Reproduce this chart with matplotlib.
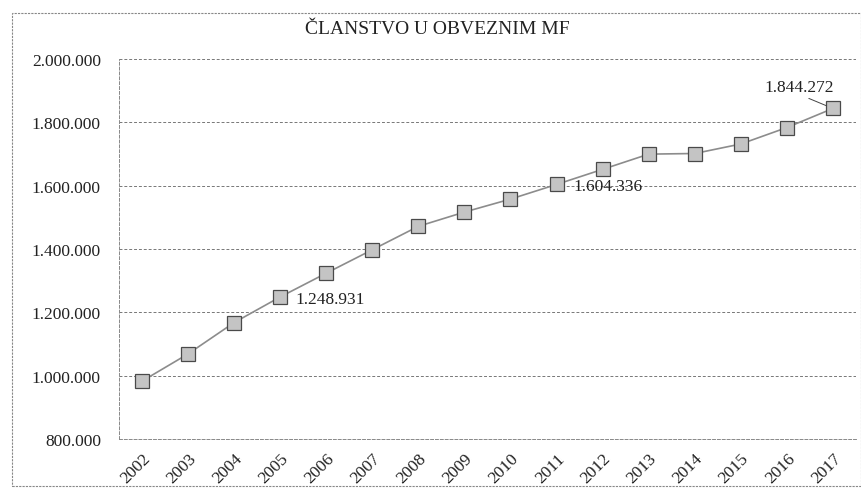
import matplotlib.pyplot as plt
from matplotlib.patches import Rectangle
from matplotlib.ticker import FuncFormatter

# Podaci
godine = [str(g) for g in range(2002, 2018)]
clanovi = [983000, 1069000, 1168000, 1248931, 1324000, 1398000, 1472000, 1517000,
           1558000, 1604336, 1652000, 1700000, 1702000, 1732000, 1784000, 1844272]
oznaceni = [3, 9, 15]

plt.rcParams['font.family'] = ['Liberation Serif', 'DejaVu Serif']

fig = plt.figure(figsize=(8.62, 4.89), dpi=100)
ax = fig.add_axes([0.138, 0.100, 0.855, 0.777])

x = list(range(len(godine)))
ax.plot(x, clanovi, color='#8c8c8c', lw=1.2, marker='s', markersize=10,
        markerfacecolor='#c4c4c4', markeredgecolor='#4a4a4a', markeredgewidth=0.9,
        zorder=3)

ax.set_xlim(-0.5, len(godine) - 0.5)
ax.set_ylim(800000, 2000000)
ax.set_yticks(range(800000, 2000001, 200000))
ax.yaxis.set_major_formatter(FuncFormatter(lambda v, p: f'{int(v):,}'.replace(',', '.')))
ax.set_xticks(x)
ax.set_xticklabels(godine, rotation=45, ha='right', rotation_mode='anchor')
ax.tick_params(axis='both', length=0, labelsize=12.5, colors='#222222')
ax.tick_params(axis='x', pad=8)
ax.tick_params(axis='y', pad=13)

ax.grid(axis='y', color='#777777', ls=(0, (3, 2)), lw=0.7)
for s in ['top', 'right']:
    ax.spines[s].set_visible(False)
for s in ['left', 'bottom']:
    ax.spines[s].set_color('#888888')
    ax.spines[s].set_linestyle((0, (3, 2)))
    ax.spines[s].set_linewidth(0.7)

# Oznake vrijednosti
fmt = lambda v: f'{v:,}'.replace(',', '.')
i = oznaceni[0]
ax.annotate(fmt(clanovi[i]), (i, clanovi[i]), xytext=(11, 0), textcoords='offset points',
            fontsize=12.5, va='center_baseline', ha='left', color='#222222')
i = oznaceni[1]
ax.annotate(fmt(clanovi[i]), (i, clanovi[i]), xytext=(12, 0), textcoords='offset points',
            fontsize=12.5, va='center_baseline', ha='left', color='#222222')
i = oznaceni[2]
ax.annotate(fmt(clanovi[i]), (i, clanovi[i]), xytext=(-24, 10), textcoords='offset points',
            fontsize=12.5, va='bottom', ha='center', color='#222222',
            arrowprops=dict(arrowstyle='-', color='#444444', lw=0.7, shrinkA=2, shrinkB=5,
                            relpos=(0.5, 0)))

fig.text(0.507, 0.94, 'ČLANSTVO U OBVEZNIM MF', ha='center', va='center',
         fontsize=14, color='#222222')

# Okvir grafikona
fig.patches.append(Rectangle((12 / 862, 0.005), 0.985, 1 - 14 / 489 - 0.005,
                             transform=fig.transFigure, fill=False,
                             ec='#888888', lw=0.8, ls=(0, (2, 1))))

fig.savefig('out.png', dpi=100)
